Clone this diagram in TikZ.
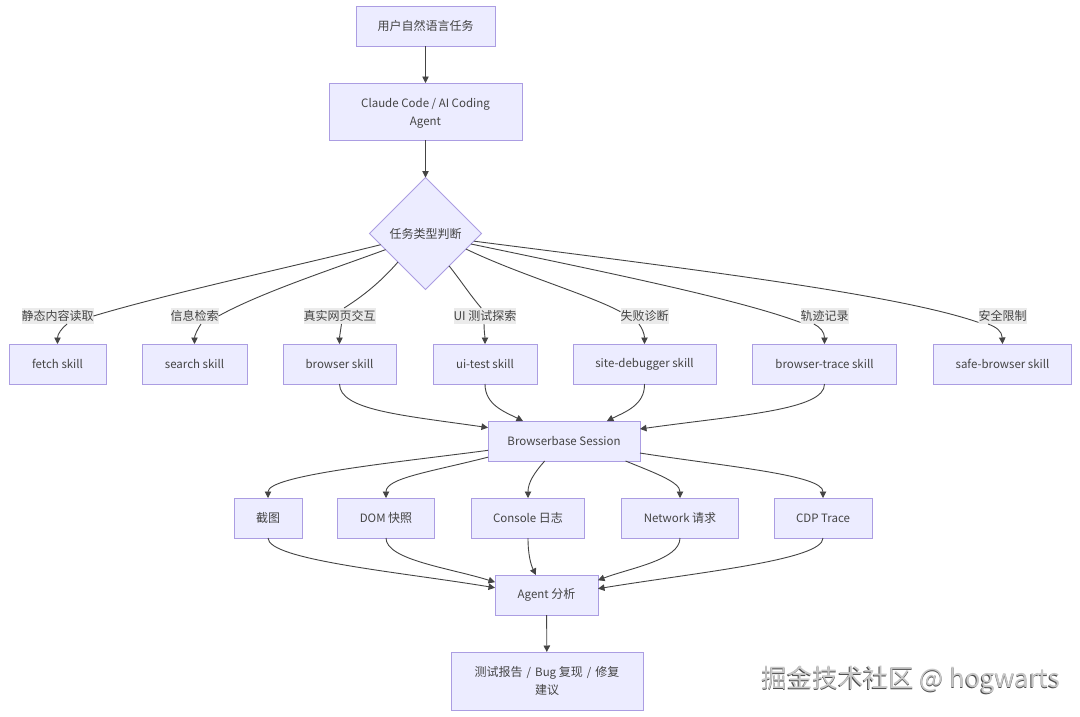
\documentclass[tikz,border=0pt]{standalone}
\usepackage{fontspec}
\setmainfont{Noto Sans CJK SC}
\usetikzlibrary{arrows.meta,shapes.geometric}
\definecolor{boxfill}{HTML}{ECECFF}
\definecolor{boxline}{HTML}{AB9DE2}
\definecolor{edgeline}{HTML}{444444}
\definecolor{labelfill}{HTML}{EBEBEB}
\definecolor{inktext}{HTML}{444444}
\newcommand{\cn}[1]{{\fontsize{12}{18}\selectfont #1}}
\newcommand{\gap}{\kern1.5pt}
\begin{document}
\begin{tikzpicture}[x=1pt,y=-1pt,
    box/.style={draw=boxline,fill=boxfill,line width=1pt,minimum height=40pt,inner sep=0pt,outer sep=0pt,align=center,text=inktext,font=\fontsize{11.5}{18}\selectfont},
    decision/.style={draw=boxline,fill=boxfill,line width=1pt,diamond,aspect=1,minimum width=112pt,minimum height=112pt,inner sep=0pt,outer sep=0pt,text=inktext,font=\fontsize{12}{18}\selectfont},
    tag/.style={fill=labelfill,inner sep=0pt,outer sep=0pt,minimum height=16pt,text=inktext,font=\fontsize{12}{16}\selectfont},
    edge/.style={draw=edgeline,line width=0.9pt},
    flow/.style={edge,-{Triangle[length=6.5pt,width=6.5pt]}}]
  \useasboundingbox (0,0) rectangle (1080,716);
  \fill[white] (0,0) rectangle (1080,716);
  \node[box,minimum width=139pt] (task) at (425.5,26) {\cn{用户自然语言任务}};
  \node[box,minimum width=193pt,minimum height=57pt] (agent) at (425.5,111.5) {\rule{0pt}{12pt}Claude Code / AI Coding\\Agent};
  \node[decision] (kind) at (425.5,233.5) {任务类型判断};
  \node[box,minimum width=97pt] (fetch) at (57.5,364) {fetch skill};
  \node[box,minimum width=105pt] (search) at (194.5,364) {search skill};
  \node[box,minimum width=113pt] (browser) at (339.5,364) {browser skill};
  \node[box,minimum width=104pt] (uitest) at (485,364) {ui-test skill};
  \node[box,minimum width=143pt] (debugger) at (644.5,364) {site-debugger skill};
  \node[box,minimum width=144pt] (trace) at (824.5,364) {browser-trace skill};
  \node[box,minimum width=138pt] (safe) at (1002.5,364) {safe-browser skill};
  \node[tag] (lfetch) at (57.5,316) {静态内容读取};
  \node[tag] (lsearch) at (194.5,316) {信息检索};
  \node[tag] (lbrowser) at (339.5,316) {真实网页交互};
  \node[tag] (luitest) at (485,316) {UI 测试探索};
  \node[tag] (ldebugger) at (644.5,316) {失败诊断};
  \node[tag] (ltrace) at (824.5,316) {轨迹记录};
  \node[tag] (lsafe) at (1002.5,316) {安全限制};
  \node[box,minimum width=152pt] (session) at (564,441) {Browserbase Session};
  \node[box,minimum width=68pt] (shot) at (268,518) {\cn{截图}};
  \node[box,minimum width=97pt] (dom) at (386,518) {DOM \cn{快照}};
  \node[box,minimum width=113pt] (console) at (528,518) {Console \cn{日志}};
  \node[box,minimum width=117pt] (network) at (680,518) {Network \cn{请求}};
  \node[box,minimum width=98pt] (cdp) at (823,518) {CDP Trace};
  \node[box,minimum width=103pt] (analysis) at (546.5,595) {Agent \cn{分析}};
  \node[box,minimum width=192pt,minimum height=58pt] (report) at (547,681) {\cn{测试报告}\gap{} /\gap{} Bug \cn{复现}\gap{} /\gap{} \cn{修复}\\\cn{建议}};
  \draw[flow] (task) -- (agent);
  \draw[flow] (agent) -- (kind);
  \draw[edge] (kind.194) .. controls (300,265) and (170,293) .. (lfetch.east);
  \draw[flow] (lfetch.-40) .. controls (62,328) and (57.5,334) .. (fetch.north);
  \draw[edge] (kind.202) .. controls (330,270) and (260,293) .. (lsearch.east);
  \draw[flow] (lsearch.-51) .. controls (197,330) and (194.5,336) .. (search.north);
  \draw[edge] (kind.226) .. controls (385,277) and (368,293) .. (lbrowser.60);
  \draw[flow] (lbrowser.-76) .. controls (340.5,331) and (339.5,337) .. (browser.north);
  \draw[edge] (kind.306) .. controls (459,278) and (470,295) .. (luitest.115);
  \draw[flow] (luitest.-97) .. controls (484,331) and (485,337) .. (uitest.north);
  \draw[edge] (kind.339) .. controls (520,275) and (590,295) .. (ldebugger.170);
  \draw[flow] (ldebugger.235) .. controls (642,328) and (644.5,334) .. (debugger.north);
  \draw[edge] (kind.347) .. controls (620,275) and (740,300) .. (ltrace.195);
  \draw[flow] (ltrace.217) .. controls (820,327) and (824.5,332) .. (trace.north);
  \draw[edge] (kind.351) .. controls (700,270) and (900,295) .. (lsafe.195);
  \draw[flow] (lsafe.209) .. controls (996,327) and (1002,331) .. (safe.north);
  \draw[flow] (browser.south) .. controls (340,410) and (400,415) .. (session.170);
  \draw[flow] (uitest.south) .. controls (485,405) and (505,412) .. (session.154.5);
  \draw[flow] (debugger.south) .. controls (645,405) and (625,412) .. (session.25.5);
  \draw[flow] (trace.south) .. controls (825,410) and (740,415) .. (session.9.7);
  \draw[flow] (session.187.5) .. controls (400,462) and (268,475) .. (shot.north);
  \draw[flow] (session.192.6) .. controls (430,472) and (386,478) .. (dom.north);
  \draw[flow] (session.226.5) .. controls (535,472) and (528,482) .. (console.north);
  \draw[flow] (session.342) .. controls (655,473) and (680,482) .. (network.north);
  \draw[flow] (session.351) .. controls (730,467) and (823,475) .. (cdp.north);
  \draw[flow] (shot.south) .. controls (268,560) and (400,572) .. (analysis.172.3);
  \draw[flow] (dom.south) .. controls (386,560) and (450,568) .. (analysis.166.5);
  \draw[flow] (console.south) .. controls (528,555) and (531,565) .. (analysis.118.8);
  \draw[flow] (network.south) .. controls (680,560) and (630,568) .. (analysis.16.2);
  \draw[flow] (cdp.south) .. controls (823,560) and (700,572) .. (analysis.7.7);
  \draw[flow] (analysis) -- (report);
  \node[text=black!70,font=\fontsize{25.4}{28}\selectfont,inner sep=0pt] (markshade) at (910.4,680.6) {掘金技术社区 @ hogwarts};
  \node[text=black!22,font=\fontsize{25.4}{28}\selectfont,inner sep=0pt] (mark) at (911,680) {掘金技术社区 @ hogwarts};
\end{tikzpicture}
\end{document}
